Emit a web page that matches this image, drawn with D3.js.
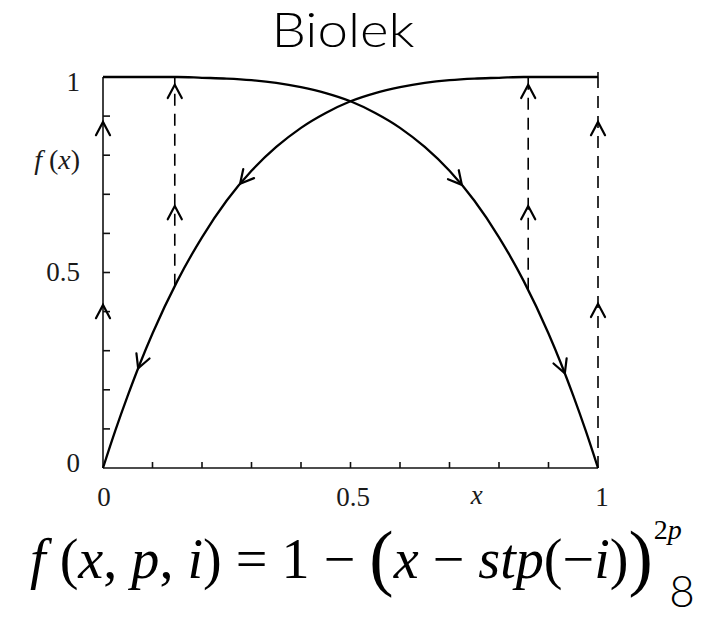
<!DOCTYPE html>
<html>
<head>
<meta charset="utf-8">
<script src="https://cdn.jsdelivr.net/npm/d3@7"></script>
<style>
    html, body { margin: 0; padding: 0; background: #fff; }
    svg { display: block; }
</style>
</head>
<body>
<svg id="chart"></svg>
<script>
'use strict';

/*
    Data
*/

// f for i < 0 : rises from (0,0) to 1
const RISING_X = [0, 0.025, 0.05, 0.075, 0.1, 0.15, 0.2, 0.25, 0.3, 0.35, 0.4, 0.45,
                  0.5, 0.55, 0.6, 0.65, 0.7, 0.75, 0.8, 0.85, 0.9, 0.95, 1];
const RISING_Y = [0, 0.096, 0.185, 0.268, 0.344, 0.478, 0.590, 0.684, 0.760, 0.821, 0.870, 0.908,
                  0.938, 0.959, 0.974, 0.985, 0.992, 0.996, 0.998, 1, 1, 1, 1];

// f for i >= 0 : falls from 1 to (1,0)
const FALLING_X = [0, 0.05, 0.1, 0.15, 0.2, 0.25, 0.3, 0.35, 0.4, 0.45, 0.5, 0.55,
                   0.6, 0.65, 0.7, 0.75, 0.8, 0.85, 0.9, 0.925, 0.95, 0.975, 1];
const FALLING_Y = [1, 1, 1, 1, 0.998, 0.996, 0.992, 0.985, 0.974, 0.959, 0.938, 0.908,
                   0.870, 0.821, 0.760, 0.684, 0.590, 0.478, 0.344, 0.268, 0.185, 0.096, 0];

// dashed jumps back to f = 1
const JUMP_X      = [0.145, 0.859, 1];
const JUMP_BOTTOM = [0.466, 0.456, 0];

// upward arrow heads on the left axis and on the dashed lines
const UP_ARROW_X = [0, 0, 0.145, 0.145, 0.859, 0.859, 1, 1];
const UP_ARROW_Y = [0.885, 0.417, 0.98, 0.67, 0.98, 0.67, 0.885, 0.42];

// arrow heads along the curves (tip x)
const RISING_ARROW_X  = [0.277, 0.071];   // pointing to smaller x
const FALLING_ARROW_X = [0.725, 0.933];   // pointing to larger x

const MINOR_TICKS   = [0.1, 0.2, 0.3, 0.4, 0.5, 0.6, 0.7, 0.8, 0.9];
const X_TICK_LABELS = [0, 0.5, 1];
const Y_TICK_LABELS = [0, 0.5, 1];

const TITLE      = 'Biolek';
const SLIDE_NO   = '8';

/*
    Constants
*/

const WIDTH  = 702;
const HEIGHT = 619;

const PLOT = Object.freeze({
    LEFT   : 103,
    RIGHT  : 598,
    TOP    : 77,
    BOTTOM : 468
});

const SERIF = '"Liberation Serif", "Times New Roman", serif';
const MATH  = '"Liberation Serif", serif';
const THIN  = 'Lato, "Open Sans", sans-serif';

const SVG = d3.select('#chart')
              .attr('width', WIDTH)
              .attr('height', HEIGHT);

const x = d3.scaleLinear().domain([0, 1]).range([PLOT.LEFT, PLOT.RIGHT]);
const y = d3.scaleLinear().domain([0, 1]).range([PLOT.BOTTOM, PLOT.TOP]);

/*
    Axes
*/

const AXES = SVG.append('g')
                .attr('stroke', '#111')
                .attr('stroke-width', 1.6)
                .attr('fill', 'none');

AXES.append('line')
    .attr('x1', x(0)).attr('x2', x(0))
    .attr('y1', y(0)).attr('y2', y(1));

AXES.append('line')
    .attr('x1', x(0)).attr('x2', x(1))
    .attr('y1', y(0)).attr('y2', y(0));

AXES.selectAll('.ytick')
    .data(MINOR_TICKS)
    .join('line')
      .attr('x1', x(0)).attr('x2', x(0) + 7)
      .attr('y1', d => y(d)).attr('y2', d => y(d));

AXES.selectAll('.xtick')
    .data(MINOR_TICKS)
    .join('line')
      .attr('x1', d => x(d)).attr('x2', d => x(d))
      .attr('y1', y(0)).attr('y2', y(0) - 6);

// small mark above x = 1
AXES.append('line')
    .attr('x1', x(1)).attr('x2', x(1))
    .attr('y1', y(1) - 5).attr('y2', y(1));

const LABELS = SVG.append('g')
                  .attr('font-family', SERIF)
                  .attr('font-size', 27)
                  .attr('fill', '#1a1a1a');

LABELS.selectAll('.ylab')
    .data(Y_TICK_LABELS)
    .join('text')
      .attr('x', 80)
      .attr('y', d => y(d) + (d - 0.5) * 10)
      .attr('dy', '0.33em')
      .attr('text-anchor', 'end')
      .text(d => d);

LABELS.selectAll('.xlab')
    .data(X_TICK_LABELS)
    .join('text')
      .attr('x', d => x(d) + 1 + d * 3)
      .attr('y', 506)
      .attr('text-anchor', 'middle')
      .text(d => d);

LABELS.append('text')
    .attr('x', x(0.755))
    .attr('y', 504)
    .attr('text-anchor', 'middle')
    .attr('font-style', 'italic')
    .text('x');

const FX = LABELS.append('text')
    .attr('x', 80)
    .attr('y', 169)
    .attr('font-size', 28)
    .attr('text-anchor', 'end');
FX.append('tspan').attr('font-style', 'italic').text('f');
FX.append('tspan').text(' (');
FX.append('tspan').attr('font-style', 'italic').text('x');
FX.append('tspan').text(')');

/*
    Curves
*/

const line = d3.line()
               .x(d => x(d[0]))
               .y(d => y(d[1]))
               .curve(d3.curveMonotoneX);

const risingData  = RISING_X.map((v, i) => [v, RISING_Y[i]]);
const fallingData = FALLING_X.map((v, i) => [v, FALLING_Y[i]]);

const CURVES = SVG.append('g')
                  .attr('fill', 'none')
                  .attr('stroke', '#000')
                  .attr('stroke-width', 2.3);

const risingPath  = CURVES.append('path').attr('d', line(risingData));
const fallingPath = CURVES.append('path').attr('d', line(fallingData));

// dashed jumps
SVG.append('g')
    .attr('stroke', '#000')
    .attr('stroke-width', 1.6)
    .attr('stroke-dasharray', '12,8')
    .selectAll('line')
    .data(JUMP_X)
    .join('line')
      .attr('x1', d => x(d)).attr('x2', d => x(d))
      .attr('y1', (d, i) => y(JUMP_BOTTOM[i]))
      .attr('y2', y(1));

/*
    Arrow heads
*/

const ARM = 15;
const HALF_ANGLE = 28 * Math.PI / 180;

function chevron(tx, ty, dx, dy) {
    // (dx, dy) : unit travel direction, arms go backwards
    const back = Math.atan2(-dy, -dx);
    const a1 = back + HALF_ANGLE;
    const a2 = back - HALF_ANGLE;
    return `M${tx + ARM * Math.cos(a1)},${ty + ARM * Math.sin(a1)}` +
           `L${tx},${ty}` +
           `L${tx + ARM * Math.cos(a2)},${ty + ARM * Math.sin(a2)}`;
}

function pointAtX(pathNode, px) {
    const total = pathNode.getTotalLength();
    let lo = 0, hi = total;
    for (let k = 0 ; k < 40 ; k++) {
        const mid = (lo + hi) / 2;
        if (pathNode.getPointAtLength(mid).x < px) lo = mid; else hi = mid;
    }
    return lo;
}

const ARROWS = SVG.append('g')
                  .attr('fill', 'none')
                  .attr('stroke', '#000')
                  .attr('stroke-width', 2.2)
                  .attr('stroke-linecap', 'round');

UP_ARROW_X.forEach((v, i) => {
    ARROWS.append('path')
          .attr('d', chevron(x(v), y(UP_ARROW_Y[i]), 0, -1));
});

function curveArrows(pathSel, xs, sign) {
    const node = pathSel.node();
    xs.forEach(v => {
        const L  = pointAtX(node, x(v));
        const p  = node.getPointAtLength(L);
        const p0 = node.getPointAtLength(Math.max(0, L - 2));
        const p1 = node.getPointAtLength(L + 2);
        const dx = (p1.x - p0.x) * sign;
        const dy = (p1.y - p0.y) * sign;
        const n = Math.hypot(dx, dy);
        ARROWS.append('path').attr('d', chevron(p.x, p.y, dx / n, dy / n));
    });
}

curveArrows(risingPath, RISING_ARROW_X, -1);
curveArrows(fallingPath, FALLING_ARROW_X, 1);

/*
    Title, formula, slide number
*/

SVG.append('text')
    .attr('x', 343)
    .attr('y', 47)
    .attr('text-anchor', 'middle')
    .attr('font-family', THIN)
    .attr('font-weight', 300)
    .attr('font-size', 47)
    .attr('textLength', 143)
    .attr('lengthAdjust', 'spacingAndGlyphs')
    .attr('fill', '#000')
    .text(TITLE);

const FORMULA = SVG.append('text')
    .attr('x', 30)
    .attr('y', 578)
    .attr('font-family', MATH)
    .attr('font-size', 44)
    .attr('fill', '#000');

const PARTS = [
    ['f', true], [' (', false], ['x', true], [', ', false], ['p', true], [', ', false],
    ['i', true], [')', false], [' = ', false], ['1', false], [' \u2212 ', false],
    ['(', false, 1.3], ['x', true], [' \u2212 ', false], ['stp', true], ['(', false],
    ['\u2212', false], ['i', true], [')', false], [')', false, 1.3]
];

PARTS.forEach(([t, it, big], i) => {
    const ts = FORMULA.append('tspan').text(t);
    if (it) ts.attr('font-style', 'italic');
    if (big) ts.attr('font-size', `${big}em`);
    // big parens sit a little lower; shift back after them
    if (i === 11) ts.attr('dy', 4);
    if (i === 12) ts.attr('dy', -4);
    if (i === 19) ts.attr('dy', 4);
});

const targetWidth = 653 - 30;
const measured = FORMULA.node().getComputedTextLength();
FORMULA.attr('font-size', 44 * targetWidth / measured);

const fb = FORMULA.node().getBBox();

const SUP = SVG.append('text')
    .attr('x', fb.x + fb.width + 1)
    .attr('y', 539)
    .attr('font-family', MATH)
    .attr('font-size', 28)
    .attr('fill', '#000');
SUP.append('tspan').text('2');
SUP.append('tspan').attr('font-style', 'italic').text('p');

SVG.append('text')
    .attr('x', 682)
    .attr('y', 607)
    .attr('text-anchor', 'middle')
    .attr('font-family', THIN)
    .attr('font-weight', 300)
    .attr('font-size', 44)
    .attr('fill', '#000')
    .text(SLIDE_NO);
</script>
</body>
</html>
